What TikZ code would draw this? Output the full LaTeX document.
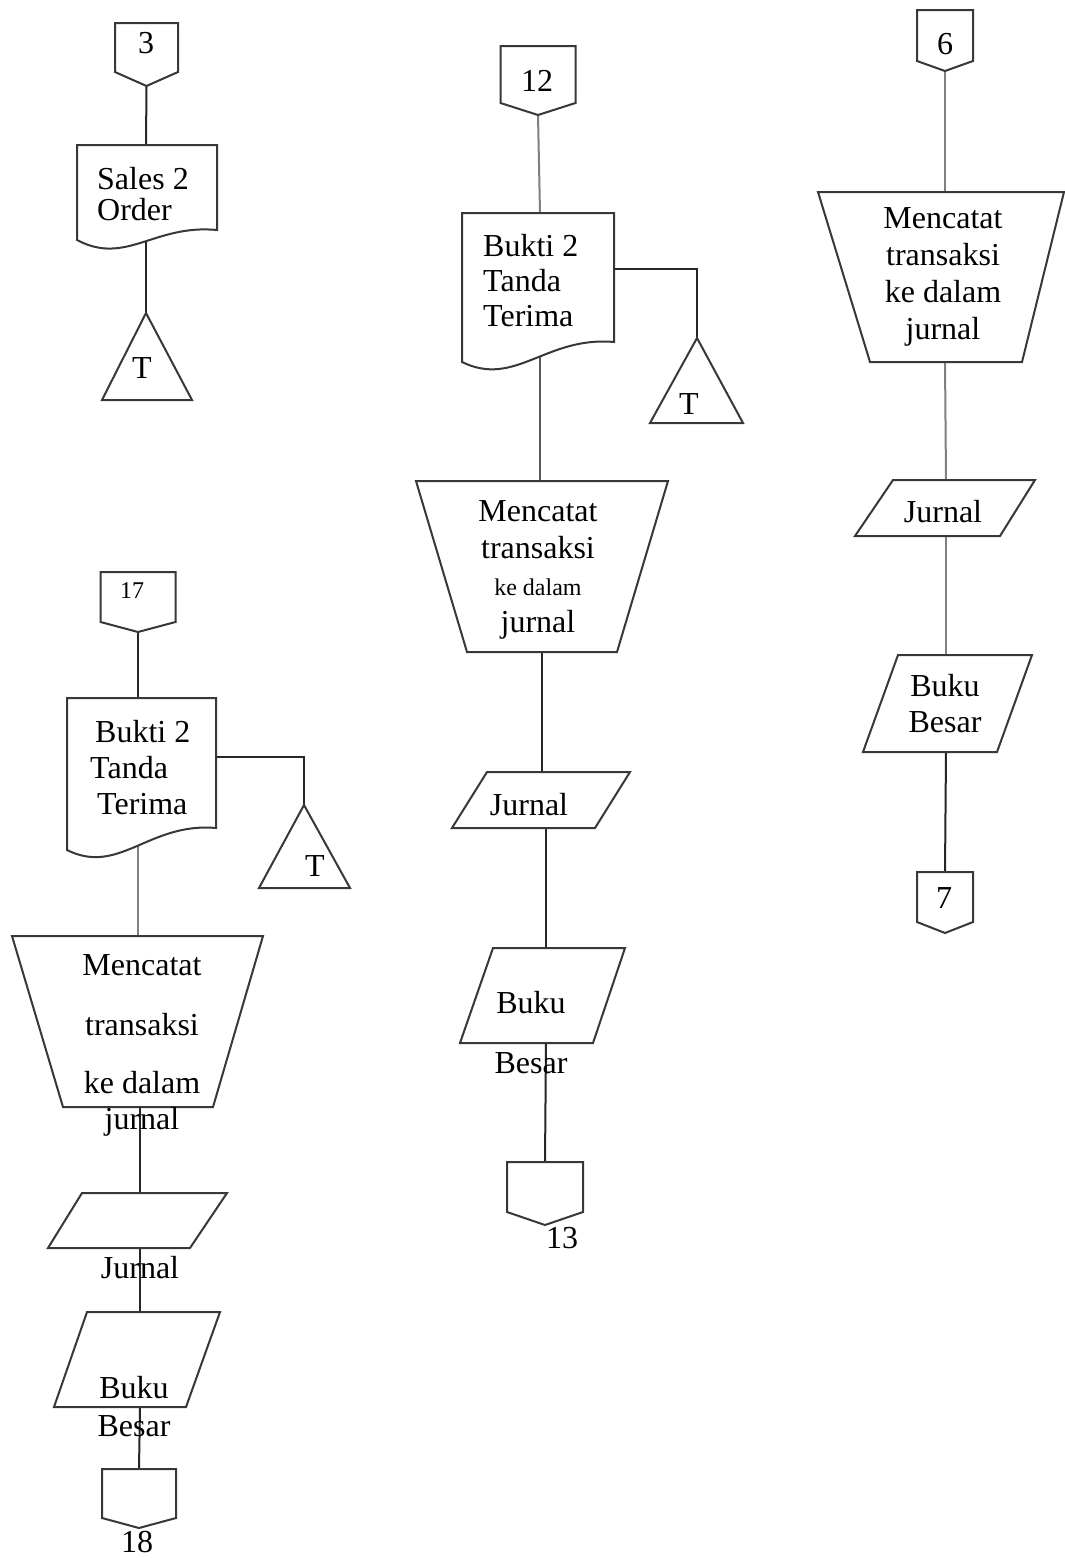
\documentclass[tikz,border=0pt]{standalone}
\usepackage{fontspec}
\setmainfont{Liberation Serif}
\pgfdeclarelayer{links}
\pgfsetlayers{links,main}
\tikzset{
  shp/.style={draw=black!78, line width=2pt, fill=white, line join=miter},
  link/.style={draw=black!85, line width=2pt},
  palelink/.style={draw=black!50, line width=2pt},
  lbl/.style={inner sep=0pt, font=\fontsize{32}{37}\selectfont},
  smalllbl/.style={inner sep=0pt, font=\fontsize{24}{28}\selectfont},
}
% off-page connector: name, centre x, top y, half width, side foot y, tip y
\newcommand\offpg[6]{%
  \draw[shp] ({#2-#4},#3) -- ({#2+#4},#3) -- ({#2+#4},#5) -- (#2,#6) -- ({#2-#4},#5) -- cycle;
  \coordinate (#1-t) at (#2,#3);
  \coordinate (#1-b) at (#2,#6);}
% document: name, left, right, top, right foot, left foot, link x, link foot y
\newcommand\docshp[8]{%
  \draw[shp] (#2,#6) -- (#2,#4) -- (#3,#4) -- (#3,#5)
    .. controls ({#3-0.45*(#3-#2)},{#5-6}) and ({#2+0.35*(#3-#2)},{#6+26}) .. (#2,#6) -- cycle;
  \coordinate (#1-t) at (#7,#4);
  \coordinate (#1-b) at (#7,#8);}
% four-corner shape (trapezoid / parallelogram)
\newcommand\quadshp[9]{%
  \draw[shp] (#2,#4) -- (#3,#4) -- (#6,#7) -- (#5,#7) -- cycle;
  \coordinate (#1-t) at (#8,#4);
  \coordinate (#1-b) at (#9,#7);}
% file triangle: name, apex x, apex y, base left, base right, base y
\newcommand\trishp[6]{%
  \draw[shp] (#2,#3) -- (#5,#6) -- (#4,#6) -- cycle;
  \coordinate (#1-t) at (#2,#3);}
\begin{document}
\begin{tikzpicture}[x=1pt,y=-1pt]
\begin{pgfonlayer}{links}
  \fill[white] (0,0) rectangle (1065,1558);
\end{pgfonlayer}
\useasboundingbox (0,0) rectangle (1065,1558);

% ---------- sales order column ----------
\offpg{c3}{146.5}{23}{31.5}{72}{86}
\node[lbl] (c3txt) at (146,43) {3};
\docshp{so}{77}{217}{145}{230}{240}{146}{235}
\node[lbl, anchor=west, align=left, font=\fontsize{32}{31}\selectfont] (sotxt) at (97,194) {Sales 2\\Order};
\trishp{f1}{146}{313}{102}{192}{400}
\node[lbl] (f1txt) at (142,368) {T};

% ---------- receipt column (12 -> 13) ----------
\offpg{c12}{538}{46}{37.5}{103}{115}
\node[lbl] (c12txt) at (537,81) {12};
\docshp{bt}{462}{614}{213}{342}{362}{540}{345}
\node[lbl, anchor=west, align=left, font=\fontsize{32}{35}\selectfont] (bttxt) at (483,281) {Bukti 2\\Tanda\\Terima};
\coordinate (bt-r) at (614,269);
\trishp{f2}{697}{338}{650}{743}{423}
\node[lbl] (f2txt) at (689,404) {T};
\quadshp{jt}{416}{668}{481}{467}{617}{652}{540}{542}
\node[lbl, align=center, font=\fontsize{32}{37}\selectfont] (jttxt) at (538,570)
  {Mencatat\\transaksi\\{\fontsize{24}{28}\selectfont ke dalam}\hspace*{40pt}\\jurnal};
\quadshp{jr}{487}{630}{772}{452}{595}{828}{542}{546}
\node[lbl] (jrtxt) at (529,805) {Jurnal};
\quadshp{bb}{493}{625}{948}{460}{593}{1043}{546}{546}
\node[lbl, align=center, font=\fontsize{32}{37}\selectfont] (bbtxt) at (531,1033) {Buku\\[23pt]Besar};
\offpg{c13}{545}{1162}{38}{1212}{1225}
\node[lbl] (c13txt) at (562,1238) {13};

% ---------- journal column (6 -> 7) ----------
\offpg{c6}{945}{10}{28}{61}{71}
\node[lbl] (c6txt) at (945,44) {6};
\quadshp{jt3}{818}{1064}{192}{870}{1022}{362}{945}{945}
\node[lbl, align=center, font=\fontsize{32}{37}\selectfont] (jt3txt) at (943,277)
  {Mencatat\\transaksi\\ke dalam\\jurnal};
\quadshp{jr3}{893}{1035}{480}{855}{1000}{536}{946}{946}
\node[lbl] (jr3txt) at (943,512) {Jurnal};
\quadshp{bb3}{898}{1032}{655}{863}{997}{752}{946}{946}
\node[lbl, align=center, font=\fontsize{32}{36}\selectfont] (bb3txt) at (945,704) {Buku\\Besar};
\offpg{c7}{945}{872}{28}{922}{933}
\node[lbl] (c7txt) at (944,898) {7};

% ---------- receipt column (17 -> 18) ----------
\offpg{c17}{138}{572}{37.5}{622}{632}
\node[smalllbl] (c17txt) at (132,591) {17};
\docshp{bt4}{67}{216}{698}{828}{850}{138}{835}
\node[lbl, anchor=west, align=left, font=\fontsize{32}{36}\selectfont] (bt4txt) at (90,768)
  {\hspace*{5pt}Bukti 2\\Tanda\\\hspace*{7pt}Terima};
\coordinate (bt4-r) at (216,757);
\trishp{f4}{304}{805}{259}{350}{888}
\node[lbl] (f4txt) at (315,866) {T};
\quadshp{jt4}{12}{263}{936}{63}{213}{1107}{138}{140}
\node[lbl, align=center, font=\fontsize{32}{37}\selectfont] (jt4txt) at (142,1045)
  {Mencatat\\[23pt]transaksi\\[21pt]ke dalam\\[-1pt]jurnal};
\quadshp{jr4}{82}{227}{1193}{48}{190}{1248}{140}{140}
\node[lbl] (jr4txt) at (140,1268) {Jurnal};
\quadshp{bb4}{87}{220}{1312}{54}{186}{1407}{140}{140}
\node[lbl, align=center, font=\fontsize{32}{38}\selectfont] (bb4txt) at (134,1407) {Buku\\Besar};
\offpg{c18}{139}{1469}{37}{1518}{1528}
\node[lbl] (c18txt) at (137,1542) {18};

% ---------- connectors ----------
\begin{pgfonlayer}{links}
  \draw[link] (c3-b) -- (so-t);
  \draw[link] (so-b) -- (f1-t);

  \draw[palelink] (c12-b) -- (bt-t);
  \draw[link] (bt-r) -| (f2-t);
  \draw[link, draw=black!65] (bt-b) -- (jt-t);
  \draw[link] (jt-b) -- (jr-t);
  \draw[link] (jr-b) -- (bb-t);
  \draw[link] (bb-b) -- (c13-t);

  \draw[palelink] (c6-b) -- (jt3-t);
  \draw[palelink] (jt3-b) -- (jr3-t);
  \draw[palelink] (jr3-b) -- (bb3-t);
  \draw[link] (bb3-b) -- (c7-t);

  \draw[link] (c17-b) -- (bt4-t);
  \draw[link] (bt4-r) -| (f4-t);
  \draw[palelink] (bt4-b) -- (jt4-t);
  \draw[link] (jt4-b) -- (jr4-t);
  \draw[link] (jr4-b) -- (bb4-t);
  \draw[link] (bb4-b) -- (c18-t);
\end{pgfonlayer}
\end{tikzpicture}
\end{document}
